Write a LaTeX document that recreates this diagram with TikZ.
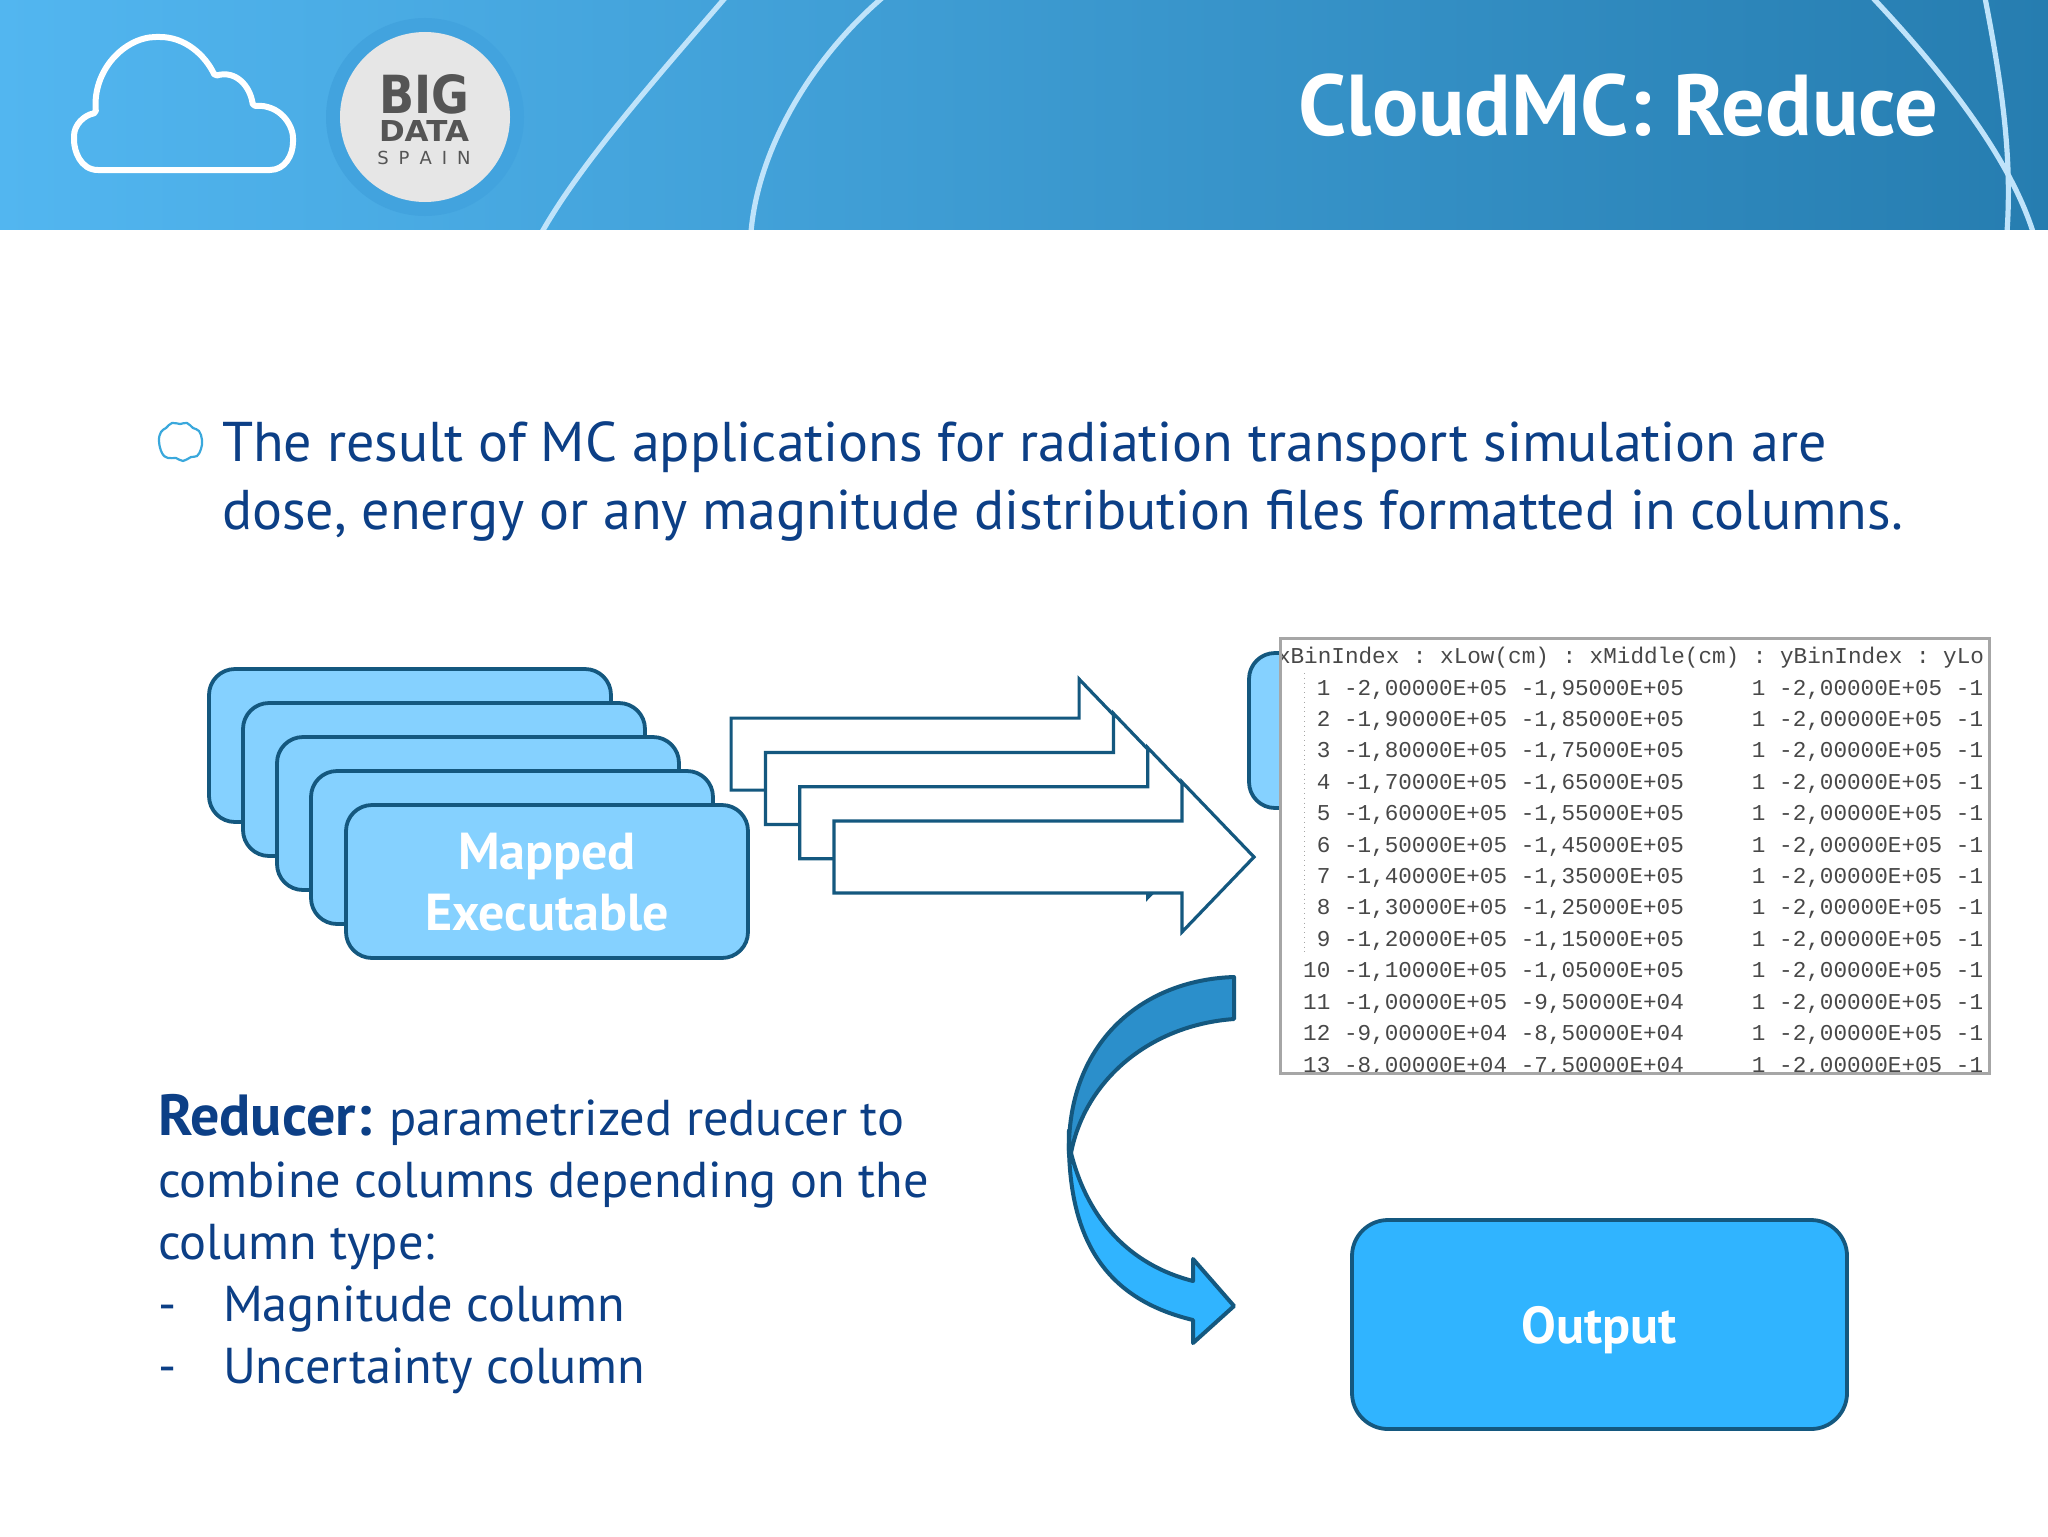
\documentclass[tikz,border=0pt]{standalone}
\usepackage{fontspec}
\usepackage{graphicx}
\setmainfont{PT Sans}
\newfontfamily\monof{Liberation Mono}
\newfontfamily\logof{DejaVu Sans}
\definecolor{stroke}{HTML}{14587F}
\definecolor{lightbox}{HTML}{85D1FF}
\definecolor{brightbox}{HTML}{30B4FF}
\definecolor{darkband}{HTML}{2B8FCB}
\definecolor{bodyblue}{HTML}{0C3F86}
\definecolor{logogray}{HTML}{555555}
\definecolor{tablegray}{HTML}{A6A6A6}
\definecolor{tabletext}{HTML}{484848}
\definecolor{arcline}{HTML}{BFE3FA}
\tikzset{
  card/.style={draw=stroke,line width=1.9pt,fill=lightbox,rounded corners=13pt},
  bigarrow/.style={draw=stroke,line width=1.6pt,fill=white,line join=miter},
  curved/.style={draw=stroke,line width=2pt,line join=round},
  arcstroke/.style={draw=arcline,line width=2.6pt},
  bodytext/.style={anchor=base west,inner sep=0,outer sep=0,text=bodyblue,font=\fontsize{28}{30}\selectfont},
  sidetext/.style={anchor=base west,inner sep=0,outer sep=0,text=bodyblue,font=\fontsize{25.2}{28}\selectfont},
  boxlabel/.style={anchor=base,inner sep=0,outer sep=0,text=white,font=\fontsize{26}{28}\selectfont\bfseries},
  rowtext/.style={anchor=base west,inner sep=0,outer sep=0,text=tabletext,font=\fontsize{11.33}{13}\monof\frenchspacing},
}
\begin{document}
\begin{tikzpicture}[x=0.5pt,y=-0.5pt]
\useasboundingbox (0,0) rectangle (2048,1536);
\fill[white] (0,0) rectangle (2048,1536);
% banner
\path[left color={rgb,255:red,82;green,182;blue,240},middle color={rgb,255:red,62;green,158;blue,220},right color={rgb,255:red,38;green,125;blue,176}] (0,0) rectangle (2048,229);
\begin{scope}
\clip (0,0) rectangle (2048,229);
\draw[arcstroke] (542,232) .. controls (580,165) and (650,85) .. (725,-2);
\draw[arcstroke] (751,232) .. controls (758,150) and (810,60) .. (882,-2);
\draw[arcstroke] (1873,-2) .. controls (1950,80) and (2010,160) .. (2033,232);
\draw[arcstroke] (1985,-2) .. controls (2003,90) and (2012,160) .. (2007,232);
\end{scope}
% cloud
\draw[white,line width=3pt,line join=round,rounded corners=1pt]
 (100,170) .. controls (80,170) and (74,150) .. (74,138)
 .. controls (74,125) and (84,115) .. (96,113)
 .. controls (92,70) and (125,37) .. (158,37)
 .. controls (185,37) and (205,55) .. (215,76)
 .. controls (235,70) and (250,85) .. (253,106)
 .. controls (280,104) and (293,125) .. (293,140)
 .. controls (293,155) and (285,170) .. (268,170) -- cycle;
% logo
\fill[color={rgb,255:red,66;green,163;blue,222}] (425,117) circle[radius=99];
\fill[color={rgb,255:red,230;green,230;blue,230}] (425,117) circle[radius=85];
\node[inner sep=0,text=logogray] (logoA) at (424,94.5) {\resizebox{45pt}{19.5pt}{\logof\bfseries BIG}};
\node[inner sep=0,text=logogray] (logoB) at (424,130.5) {\resizebox{45pt}{10.5pt}{\logof\bfseries DATA}};
\node[inner sep=0,text=logogray,anchor=base] (logoC) at (424,164) {\logof\fontsize{9}{10}\selectfont S\hspace{5pt}P\hspace{5pt}A\hspace{5pt}I\hspace{5pt}N};
\node[anchor=base east,inner sep=0,text=white,font=\fontsize{43.2}{46}\selectfont\bfseries] (title) at (1939,135) {CloudMC: Reduce};
% bullet
\draw[color={rgb,255:red,58;green,168;blue,220},line width=1.1pt] plot[smooth cycle,tension=0.7] coordinates {
(159,441)(161,432)(166,428)(172,423)(180,424)(187,423)(193,428)(199,431)(202,440)(201,449)(197,456)(191,457)(183,461)(176,458)(168,458)(162,453)};
\node[bodytext] (line1) at (222,461) {The result of MC applications for radiation transport simulation are};
\node[bodytext] (line2) at (222,529) {dose, energy or any magnitude distribution files formatted in columns.};
% cards
\draw[card] (209,669) rectangle (611,822);
\draw[card] (243,703) rectangle (645,856);
\draw[card] (277,737) rectangle (679,890);
\draw[card] (311,771) rectangle (713,924);
\draw[card] (346,805) rectangle (748,958);
\node[boxlabel] (mapped) at (547,869) {Mapped};
\node[boxlabel] (exec) at (547,930) {Executable};
% big arrows
\foreach \i in {3,2,1,0}{
  \draw[bigarrow,shift={(-34.3*\i,-34.3*\i)}] (834,821) -- (1182,821) -- (1182,782) -- (1254,857) -- (1182,932) -- (1182,893) -- (834,893) -- cycle;
}
% hidden card and table
\draw[card] (1249,653) rectangle (1650,808);
\begin{scope}
\clip (1280,638) rectangle (1989,1073);
\fill[white] (1280,638) rectangle (1989,1073);
\draw[tablegray,line width=0.4pt,dotted] (1304,673) -- (1304,953);
\node[rowtext] (h) at (1277,663) {xBinIndex : xLow(cm) : xMiddle(cm) : yBinIndex : yLo};
\node[rowtext] (r1) at (1276,695) {~~~1 -2,00000E+05 -1,95000E+05~~~~~1 -2,00000E+05 -1};
\node[rowtext] (r2) at (1276,726.4) {~~~2 -1,90000E+05 -1,85000E+05~~~~~1 -2,00000E+05 -1};
\node[rowtext] (r3) at (1276,757.8) {~~~3 -1,80000E+05 -1,75000E+05~~~~~1 -2,00000E+05 -1};
\node[rowtext] (r4) at (1276,789.2) {~~~4 -1,70000E+05 -1,65000E+05~~~~~1 -2,00000E+05 -1};
\node[rowtext] (r5) at (1276,820.6) {~~~5 -1,60000E+05 -1,55000E+05~~~~~1 -2,00000E+05 -1};
\node[rowtext] (r6) at (1276,852) {~~~6 -1,50000E+05 -1,45000E+05~~~~~1 -2,00000E+05 -1};
\node[rowtext] (r7) at (1276,883.4) {~~~7 -1,40000E+05 -1,35000E+05~~~~~1 -2,00000E+05 -1};
\node[rowtext] (r8) at (1276,914.8) {~~~8 -1,30000E+05 -1,25000E+05~~~~~1 -2,00000E+05 -1};
\node[rowtext] (r9) at (1276,946.2) {~~~9 -1,20000E+05 -1,15000E+05~~~~~1 -2,00000E+05 -1};
\node[rowtext] (r10) at (1276,977.6) {~~10 -1,10000E+05 -1,05000E+05~~~~~1 -2,00000E+05 -1};
\node[rowtext] (r11) at (1276,1009) {~~11 -1,00000E+05 -9,50000E+04~~~~~1 -2,00000E+05 -1};
\node[rowtext] (r12) at (1276,1040.4) {~~12 -9,00000E+04 -8,50000E+04~~~~~1 -2,00000E+05 -1};
\node[rowtext] (r13) at (1276,1072.5) {~~13 -8,00000E+04 -7,50000E+04~~~~~1 -2,00000E+05 -1};
\end{scope}
\draw[tablegray,line width=1.5pt] (1280,638) rectangle (1989,1073);
% curved arrow
\draw[curved,fill=brightbox] (1069,1130) .. controls (1066,1245) and (1110,1300) .. (1193,1320) -- (1193,1343) -- (1234,1306) -- (1193,1259) -- (1193,1281) .. controls (1130,1265) and (1088,1220) .. (1071,1153) -- cycle;
\draw[curved,fill=darkband] (1234,977) .. controls (1140,980) and (1066,1045) .. (1069,1155) -- (1071,1153) .. controls (1085,1080) and (1150,1025) .. (1234,1019) -- cycle;
% reducer text
\node[sidetext] (rd1) at (158,1135) {{\fontsize{29}{30}\selectfont\bfseries Reducer:} parametrized reducer to};
\node[sidetext] (rd2) at (158,1197) {combine columns depending on the};
\node[sidetext] (rd3) at (158,1259) {column type:};
\node[sidetext] (rd4a) at (158,1321) {-};
\node[sidetext] (rd4) at (223,1321) {Magnitude column};
\node[sidetext] (rd5a) at (158,1383) {-};
\node[sidetext] (rd5) at (223,1383) {Uncertainty column};
% output
\draw[draw=stroke,line width=1.9pt,fill=brightbox,rounded corners=18pt] (1352,1220) rectangle (1847,1429);
\node[boxlabel] (output) at (1599,1343) {Output};
\end{tikzpicture}
\end{document}
